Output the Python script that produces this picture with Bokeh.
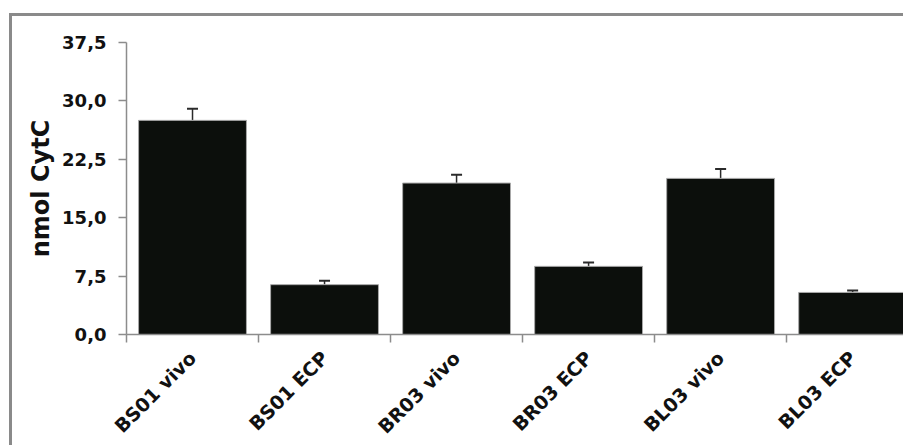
import math
from bokeh.plotting import figure
from bokeh.models import ColumnDataSource, FixedTicker, Whisker, TeeHead, Range1d
from bokeh.embed import file_html
from bokeh.resources import INLINE

categories = ["BS01 vivo", "BS01 ECP", "BR03 vivo", "BR03 ECP", "BL03 vivo", "BL03 ECP"]
values = [27.5, 6.4, 19.45, 8.75, 20.05, 5.4]
errors = [1.5, 0.5, 1.05, 0.5, 1.2, 0.25]
y_ticks = [0.0, 7.5, 15.0, 22.5, 30.0, 37.5]
y_tick_labels = ["0,0", "7,5", "15,0", "22,5", "30,0", "37,5"]
y_label = "nmol CytC"

xs = [i + 0.5 for i in range(len(categories))]
upper = [v + e for v, e in zip(values, errors)]
src = ColumnDataSource(dict(x=xs, top=values, upper=upper, cat=categories))

FONT = "DejaVu Sans"
GRAY = "#8c8c8c"

p = figure(width=894, height=432, output_backend="svg", toolbar_location=None,
           x_range=Range1d(0, 5.908), y_range=Range1d(0, 37.5),
           min_border_left=114, min_border_right=0, min_border_top=26, min_border_bottom=114)
p.styles = {"border-top": "3px solid #8a8a8a", "border-left": "3px solid #8a8a8a",
            "margin-top": "13px", "margin-left": "9px"}
p.outline_line_color = None
p.xgrid.visible = False
p.ygrid.visible = False
p.background_fill_color = "white"

p.vbar(x="x", top="top", width=0.817, bottom=0, source=src,
       fill_color="#0c0f0c", line_color="#a8a8a8", line_width=1)

w = Whisker(base="x", lower="top", upper="upper", source=src,
            line_color="#2a2a2a", line_width=1.5,
            upper_head=TeeHead(size=11, line_color="#2a2a2a", line_width=2),
            lower_head=None)
p.add_layout(w)

# x axis
xa = p.xaxis[0]
xa.ticker = FixedTicker(ticks=xs, minor_ticks=list(range(len(categories) + 1)))
xa.major_label_overrides = {x: c for x, c in zip(xs, categories)}
xa.major_label_orientation = math.pi / 4
xa.major_tick_in = 0
xa.major_tick_out = 0
xa.minor_tick_in = 0
xa.minor_tick_out = 8
xa.minor_tick_line_color = GRAY
xa.minor_tick_line_width = 1.5
xa.axis_line_color = GRAY
xa.axis_line_width = 1.5
xa.major_label_text_font = FONT
xa.major_label_text_font_style = "bold"
xa.major_label_text_font_size = "19px"
xa.major_label_text_color = "#111111"
xa.major_label_standoff = 12

# y axis
ya = p.yaxis[0]
ya.ticker = FixedTicker(ticks=y_ticks, minor_ticks=[])
ya.major_label_overrides = {t: l for t, l in zip(y_ticks, y_tick_labels)}
ya.major_tick_in = 0
ya.major_tick_out = 8
ya.major_tick_line_color = GRAY
ya.major_tick_line_width = 1.5
ya.axis_line_color = GRAY
ya.axis_line_width = 1.5
ya.major_label_text_font = FONT
ya.major_label_text_font_style = "bold"
ya.major_label_text_font_size = "18px"
ya.major_label_text_color = "#111111"
ya.major_label_standoff = 12
ya.axis_label = y_label
ya.axis_label_text_font = FONT
ya.axis_label_text_font_style = "bold"
ya.axis_label_text_font_size = "24px"
ya.axis_label_text_color = "#111111"
ya.axis_label_standoff = 4

open("out.html", "w").write(file_html(p, INLINE))
